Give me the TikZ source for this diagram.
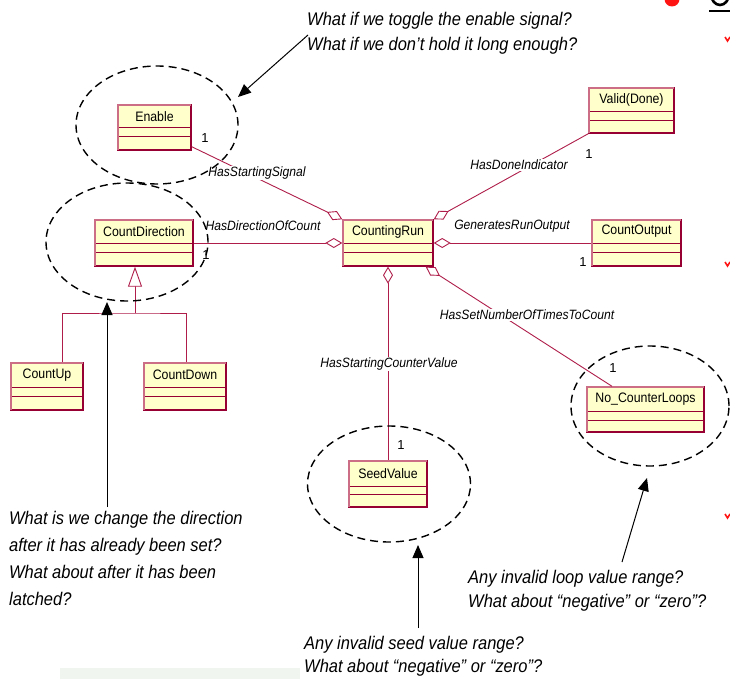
\documentclass[tikz,border=0pt]{standalone}
\usepackage{fontspec}
\setmainfont{Liberation Sans}
\newfontfamily\narrowsans{Liberation Sans}[FakeStretch=0.9]
\usetikzlibrary{arrows.meta,fit,shapes.geometric}

\definecolor{classfill}{RGB}{255,255,204}
\definecolor{classdark}{RGB}{150,0,50}
\definecolor{classlite}{RGB}{205,110,135}
\definecolor{assoccol}{RGB}{175,30,75}
\definecolor{slidered}{RGB}{255,20,20}
\definecolor{paneltint}{RGB}{240,245,240}

% UML class box: name, x1, y1, x2, y2, divider 1, divider 2, title
\newcommand\umlclass[8]{%
  \node[umlbox, fit={(#2,#3)(#4,#5)}] (#1) {};
  \draw[umlrule] (#2,#6) -- (#4,#6) (#2,#7) -- (#4,#7);
  \draw[umllite] (#2,#5) -- (#2,#3) -- (#4,#3);
  \node[classtitle] at ({(#2+#4)/2},{(#3+#6)/2}) {#8};
}

\tikzset{
  umlbox/.style={draw=classdark, fill=classfill, line width=1.4pt, inner sep=0pt},
  umlrule/.style={draw=classdark, line width=1pt},
  umllite/.style={draw=classlite, line width=1.2pt},
  classtitle/.style={font=\narrowsans\fontsize{13.7}{15}\selectfont, inner sep=0pt},
  assoc/.style={draw=assoccol, line width=0.9pt},
  agg/.style={assoc, {Diamond[fill=white, length=17pt, width=10pt]}-},
  gen/.style={assoc, -{Triangle[fill=white, length=20pt, width=14pt]}},
  rolelabel/.style={font=\narrowsans\fontsize{13.5}{15}\selectfont\itshape, fill=white, inner sep=1pt},
  mult/.style={font=\fontsize{13}{14}\selectfont, inner sep=0pt},
  ring/.style={draw=black, ellipse, dash pattern=on 8pt off 5pt, line width=1.4pt, inner sep=0pt},
  callarrow/.style={draw=black, line width=1pt, -{Triangle[length=13pt, width=11pt]}},
  note/.style={font=\narrowsans\fontsize{18.3}{20}\selectfont\itshape, anchor=base west, inner sep=0pt},
}

\begin{document}
\begin{tikzpicture}[x=1pt, y=-1pt]
\useasboundingbox (0,0) rectangle (730,679);
\fill[white] (0,0) rectangle (730,679);

% fragments of the neighbouring slide content
\fill[paneltint] (60,668) rectangle (300,679);
\fill[slidered] (672,-1) circle (7.5);
\draw[line width=2.6pt] (720,-6) ellipse [x radius=9, y radius=11];
\draw[line width=1.4pt] (709,11) -- (730,11);
\draw[slidered, line width=1.6pt] (725,37) -- (727.5,41) -- (730,37);
\draw[slidered, line width=1.6pt] (725,262) -- (727.5,266) -- (730,262);
\draw[slidered, line width=1.6pt] (725,514) -- (727.5,518) -- (730,514);

% classes
\umlclass{enable}{118}{105}{191}{150}{128}{137}{Enable}
\umlclass{valid}{589}{88}{674}{133}{112}{121}{Valid(Done)}
\umlclass{dir}{95}{220}{193}{266}{243}{252}{CountDirection}
\umlclass{run}{343}{220}{433}{266}{243}{252}{CountingRun}
\umlclass{out}{592}{220}{681}{266}{243}{252}{CountOutput}
\umlclass{up}{11}{363}{83}{410}{387}{396}{CountUp}
\umlclass{down}{144}{363}{226}{410}{387}{396}{CountDown}
\umlclass{loops}{587}{387}{704}{432}{411}{420}{No\_CounterLoops}
\umlclass{seed}{349}{461}{427}{507}{486}{494}{SeedValue}

% aggregations from CountingRun
\draw[agg] (run.north west) -- ([yshift=4pt]enable.south east);
\draw[agg] (run.north east) -- (valid.south west);
\draw[agg] (run.west) -- (dir.east);
\draw[agg] (run.east) -- (out.west);
\draw[agg] (run.south) -- (seed.north);
\draw[agg] ([xshift=-8pt]run.south east) -- ([xshift=-33.5pt]loops.north);

% generalization of the count direction
\coordinate (genjoin) at (135,313);
\draw[assoc] ([xshift=15pt]up.north) |- (genjoin) -| ([xshift=1pt]down.north);
\draw[gen] (genjoin) -- ([xshift=-9pt]dir.south);

% role names
\node[rolelabel] (lblsig) at (257,173) {HasStartingSignal};
\node[rolelabel] (lbldone) at (519,165) {HasDoneIndicator};
\node[rolelabel] (lbldir) at (263,226) {HasDirectionOfCount};
\node[rolelabel] (lblout) at (512,226) {GeneratesRunOutput};
\node[rolelabel] (lblloops) at (527,315) {HasSetNumberOfTimesToCount};
\node[rolelabel] (lblseed) at (389,364) {HasStartingCounterValue};

% multiplicities
\node[mult] (m1) at (205,138) {1};
\node[mult] (m2) at (589,154) {1};
\node[mult] (m3) at (206,255) {1};
\node[mult] (m4) at (583,262) {1};
\node[mult] (m5) at (401,445) {1};
\node[mult] (m6) at (613,368) {1};

% dashed rings around the questioned classes
\node[ring, minimum width=162pt, minimum height=118pt] (ringenable) at (157,125) {};
\node[ring, minimum width=162pt, minimum height=118pt] (ringdir) at (127,242) {};
\node[ring, minimum width=163pt, minimum height=116pt] (ringseed) at (389,484) {};
\node[ring, minimum width=158pt, minimum height=120pt] (ringloops) at (650,406) {};

% questions
\node[note] (qenable1) at (307,26) {What if we toggle the enable signal?};
\node[note] (qenable2) at (307,51) {What if we don’t hold it long enough?};
\node[note] (qdir1) at (9,524) {What is we change the direction};
\node[note] (qdir2) at (9,551) {after it has already been set?};
\node[note] (qdir3) at (9,578) {What about after it has been};
\node[note] (qdir4) at (9,605) {latched?};
\node[note] (qseed1) at (304,649) {Any invalid seed value range?};
\node[note] (qseed2) at (304,672) {What about “negative” or “zero”?};
\node[note] (qloop1) at (468,583) {Any invalid loop value range?};
\node[note] (qloop2) at (468,607) {What about “negative” or “zero”?};

% pointers from the questions to the rings
\coordinate (penable) at (308,35);
\coordinate (tenable) at (238,97);
\coordinate (pdir) at (107,507);
\coordinate (tdir) at (107,302);
\coordinate (pseed) at (418,628);
\coordinate (tseed) at (418,545);
\coordinate (ploop) at (622,562);
\coordinate (tloop) at (647,478);
\draw[callarrow] (penable) -- (tenable);
\draw[callarrow] (pdir) -- (tdir);
\draw[callarrow] (pseed) -- (tseed);
\draw[callarrow] (ploop) -- (tloop);
\end{tikzpicture}
\end{document}
